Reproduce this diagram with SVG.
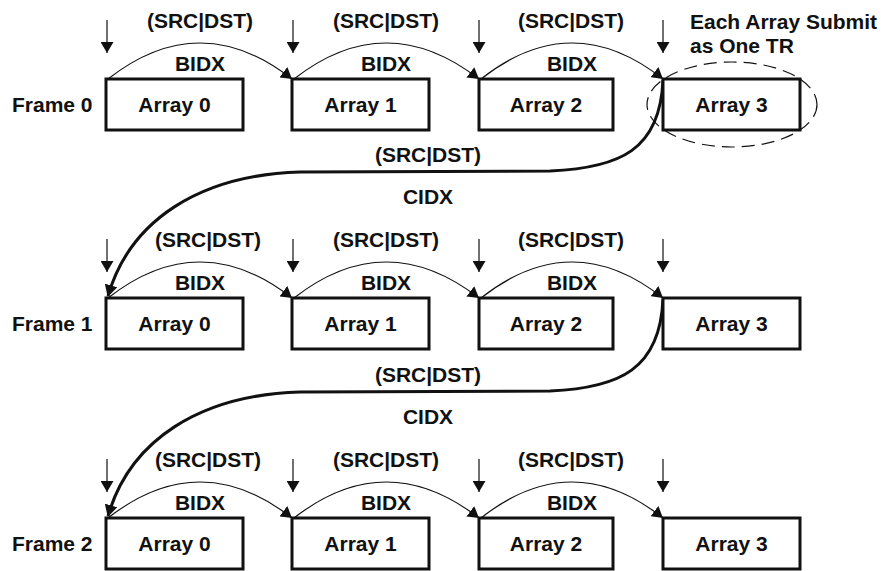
<svg xmlns="http://www.w3.org/2000/svg" width="881" height="571" viewBox="0 0 881 571">
<defs>
<style>
text{font-family:"Liberation Sans",Arial,sans-serif;font-weight:bold;font-size:21px;fill:#111}
.c{text-anchor:middle}
.box{fill:#fff;stroke:#111;stroke-width:3}
.thin{fill:none;stroke:#111;stroke-width:1.2}
.thick{fill:none;stroke:#111;stroke-width:3}
.dash{fill:none;stroke:#111;stroke-width:1.2;stroke-dasharray:13 7}
</style>
<marker id="ah" viewBox="0 0 11 13" markerWidth="11" markerHeight="13" refX="11" refY="6.5" orient="auto" markerUnits="userSpaceOnUse"><path d="M0,0 L11,6.5 L0,13 Z" fill="#111"/></marker>
<marker id="ahb" viewBox="0 0 12 13" markerWidth="12" markerHeight="13" refX="11" refY="6.5" orient="auto" markerUnits="userSpaceOnUse"><path d="M0,0 L12,6.5 L0,13 Z" fill="#111"/></marker>
</defs>
<rect width="881" height="571" fill="#fff"/>

<g id="connectors">
<g class="thin" marker-end="url(#ah)">
<path d="M107,20 V53"/><path d="M293,20 V53"/><path d="M479,20 V53"/><path d="M663,20 V53"/>
<path d="M107,239 V272"/><path d="M293,239 V272"/><path d="M479,239 V272"/><path d="M663,239 V272"/>
<path d="M107,459 V492"/><path d="M293,459 V492"/><path d="M479,459 V492"/><path d="M663,459 V492"/>
</g>
<g class="thin" marker-end="url(#ah)">
<path d="M108,79 Q200,7 292,79"/><path d="M294,79 Q386,7 479,79"/><path d="M481,79 Q572,7 663,79"/>
<path d="M108,298 Q200,226 292,298"/><path d="M294,298 Q386,226 479,298"/><path d="M481,298 Q572,226 663,298"/>
<path d="M108,518 Q200,446 292,518"/><path d="M294,518 Q386,446 479,518"/><path d="M481,518 Q572,446 663,518"/>
</g>
<path class="thick" marker-end="url(#ahb)" d="M663,80 C660,150 620,168 550,171 L300,172 C200,175 130,220 108,296"/>
<path class="thick" marker-end="url(#ahb)" d="M663,299 C660,369 620,388 550,391 L300,392 C200,395 130,440 108,516"/>
<ellipse class="dash" cx="732" cy="104.5" rx="85" ry="42.5"/>
</g>

<g id="labels">
<text class="c" x="200" y="28">(SRC|DST)</text>
<text class="c" x="386" y="28">(SRC|DST)</text>
<text class="c" x="571" y="28">(SRC|DST)</text>
<text class="c" x="200" y="71">BIDX</text>
<text class="c" x="386" y="71">BIDX</text>
<text class="c" x="572" y="71">BIDX</text>
<text x="690" y="29">Each Array Submit</text>
<text x="690" y="53">as One TR</text>
<text class="c" x="428" y="162">(SRC|DST)</text>
<text class="c" x="428" y="204">CIDX</text>

<text class="c" x="208" y="247">(SRC|DST)</text>
<text class="c" x="386" y="247">(SRC|DST)</text>
<text class="c" x="571" y="247">(SRC|DST)</text>
<text class="c" x="200" y="290">BIDX</text>
<text class="c" x="386" y="290">BIDX</text>
<text class="c" x="572" y="290">BIDX</text>
<text class="c" x="428" y="382">(SRC|DST)</text>
<text class="c" x="428" y="424">CIDX</text>

<text class="c" x="208" y="467">(SRC|DST)</text>
<text class="c" x="386" y="467">(SRC|DST)</text>
<text class="c" x="571" y="467">(SRC|DST)</text>
<text class="c" x="200" y="510">BIDX</text>
<text class="c" x="386" y="510">BIDX</text>
<text class="c" x="572" y="510">BIDX</text>
</g>

<g id="frame0"><text x="12" y="112">Frame 0</text></g>
<g id="frame1"><text x="12" y="331">Frame 1</text></g>
<g id="frame2"><text x="12" y="551">Frame 2</text></g>

<g id="f0a0"><rect class="box" x="106" y="79" width="137" height="51"/><text class="c" x="174.5" y="112">Array 0</text></g>
<g id="f0a1"><rect class="box" x="292" y="79" width="137" height="51"/><text class="c" x="360.5" y="112">Array 1</text></g>
<g id="f0a2"><rect class="box" x="479" y="79" width="134" height="51"/><text class="c" x="546" y="112">Array 2</text></g>
<g id="f0a3"><rect class="box" x="663" y="79" width="137" height="51"/><text class="c" x="731.5" y="112">Array 3</text></g>

<g id="f1a0"><rect class="box" x="106" y="298" width="137" height="51"/><text class="c" x="174.5" y="331">Array 0</text></g>
<g id="f1a1"><rect class="box" x="292" y="298" width="137" height="51"/><text class="c" x="360.5" y="331">Array 1</text></g>
<g id="f1a2"><rect class="box" x="479" y="298" width="134" height="51"/><text class="c" x="546" y="331">Array 2</text></g>
<g id="f1a3"><rect class="box" x="663" y="298" width="137" height="51"/><text class="c" x="731.5" y="331">Array 3</text></g>

<g id="f2a0"><rect class="box" x="106" y="518" width="137" height="51"/><text class="c" x="174.5" y="551">Array 0</text></g>
<g id="f2a1"><rect class="box" x="292" y="518" width="137" height="51"/><text class="c" x="360.5" y="551">Array 1</text></g>
<g id="f2a2"><rect class="box" x="479" y="518" width="134" height="51"/><text class="c" x="546" y="551">Array 2</text></g>
<g id="f2a3"><rect class="box" x="663" y="518" width="137" height="51"/><text class="c" x="731.5" y="551">Array 3</text></g>
</svg>
